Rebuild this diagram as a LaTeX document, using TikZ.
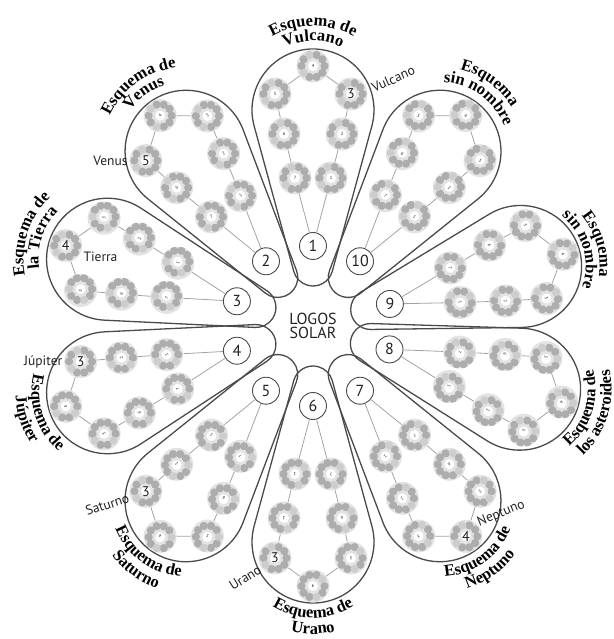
\documentclass[tikz,border=0pt]{standalone}
\usepackage{fontspec}
\setmainfont{Liberation Serif}
\newfontfamily\globesans{PT Sans}
\usetikzlibrary{calc,positioning,decorations.text}
\definecolor{ssInk}{HTML}{222222}
\definecolor{ssEdge}{HTML}{4A4A4A}
\definecolor{ssLink}{HTML}{A3A3A3}
\definecolor{ssGlobe}{HTML}{E3E3E3}
\definecolor{ssDot}{HTML}{ADADAD}
\definecolor{ssDotLt}{HTML}{CDCDCD}
\newcommand\schemefont{\fontsize{16.5}{16.5}\selectfont\bfseries}
\newcommand\bigdigit{\fontsize{14}{14}\selectfont}
\tikzset{
  petal/.style={draw=ssEdge, line width=1.3pt},
  numc/.style={circle, draw=ssEdge, line width=0.9pt, fill=white, minimum size=27pt, inner sep=0pt, text=ssInk, font=\globesans\fontsize{16}{16}\selectfont},
  globe/.style={circle, minimum size=33pt, inner sep=0pt, fill=ssGlobe, text=ssInk, font=\globesans\fontsize{4.5}{4.5}\selectfont,
    path picture={
      \foreach \d in {0,36,72,144,180,252,288,324} \fill[ssDot] (path picture bounding box.center) ++(\d:11.5pt) circle (4.1pt);
      \foreach \d in {108,216} \fill[ssDotLt] (path picture bounding box.center) ++(\d:11.5pt) circle (4.1pt);
      \fill[white] (path picture bounding box.center) circle (5pt);
    }},
  link/.style={draw=ssLink, line width=0.8pt},
  planet/.style={text=ssInk, inner sep=1.5pt, font=\globesans\fontsize{13.5}{13.5}\selectfont},
  logo/.style={text=ssInk, align=center, inner sep=0pt, font=\globesans\fontsize{16}{14}\selectfont},
}

\begin{document}
\begin{tikzpicture}[x=1pt, y=1pt]
  \useasboundingbox (-313,-313) rectangle (300,326);
  \foreach \p/\a/\s in {1/90/3, 2/126/5, 3/162/4, 4/198/3, 5/234/3, 6/270/3, 7/306/4, 8/343/0, 9/16/0, 10/54/0} {
    \begin{scope}[rotate=\a]
      \draw[petal] (60,0) ++(105.2:20) -- ($(216,0)+(105.2:61)$) arc[start angle=105.2, end angle=-105.2, radius=61] -- ($(60,0)+(-105.2:20)$) arc[start angle=254.8, end angle=105.2, radius=20] -- cycle;
      \node[numc] (n\p) at (80,0) {\p};
      \foreach \k/\x/\y in {1/148/-18, 2/192/-29, 3/232/-38, 4/260/0, 5/232/38, 6/192/29, 7/148/18} {
        \pgfmathsetmacro\rot{ifthenelse(\k==\s,0,\a-90)}
        \node[globe, rotate=\rot] (g\p-\k) at (\x,\y) {\ifnum\k=\s\relax\bigdigit\fi\k};
      }
      \draw[link] (n\p) -- (g\p-1) -- (g\p-2) -- (g\p-3) -- (g\p-4) -- (g\p-5) -- (g\p-6) -- (g\p-7) -- (n\p);
    \end{scope}
  }
  \foreach \a/\ro/\ri/\la/\lb in {90/84/69/Esquema de/Vulcano, 126/84/69/Esquema de/Venus, 162/84/69/Esquema de/la Tierra, 16/79/65/Esquema/sin nombre, 54/84/69/Esquema/sin nombre} {
    \path[decorate, decoration={text along path, text align=center, text/.expanded={|\noexpand\schemefont|\la}}] (\a:216) ++(\a+75:\ro) arc[start angle=\a+75, end angle=\a-75, radius=\ro];
    \path[decorate, decoration={text along path, text align=center, text/.expanded={|\noexpand\schemefont|\lb}}] (\a:216) ++(\a+75:\ri) arc[start angle=\a+75, end angle=\a-75, radius=\ri];
  }
  \foreach \a/\la/\lb in {198/Esquema de/Júpiter, 234/Esquema de/Saturno, 270/Esquema de/Urano, 306/Esquema de/Neptuno, 343/Esquema de/los asteroides} {
    \path[decorate, decoration={text along path, text align=center, text/.expanded={|\noexpand\schemefont|\la}}] (\a:216) ++(\a-75:76) arc[start angle=\a-75, end angle=\a+75, radius=76];
    \path[decorate, decoration={text along path, text align=center, text/.expanded={|\noexpand\schemefont|\lb}}] (\a:216) ++(\a-75:92) arc[start angle=\a-75, end angle=\a+75, radius=92];
  }
  \node[logo] (logos) at (0,0) {LOGOS\\SOLAR};
  \node[planet, anchor=west, rotate=24, xshift=4pt] (vulcano) at (g1-3.12) {Vulcano};
  \node[planet, left=0pt of g2-5] (venus) {Venus};
  \node[planet, anchor=north west] (tierra) at (g3-4.-15) {Tierra};
  \node[planet, left=0pt of g4-3] (jupiter) {Júpiter};
  \node[planet, anchor=east, rotate=18] (saturno) at (g5-3.200) {Saturno};
  \node[planet, anchor=east, rotate=32] (urano) at (g6-3.215) {Urano};
  \node[planet, anchor=west, rotate=22] (neptuno) at (g7-4.50) {Neptuno};
\end{tikzpicture}
\end{document}
